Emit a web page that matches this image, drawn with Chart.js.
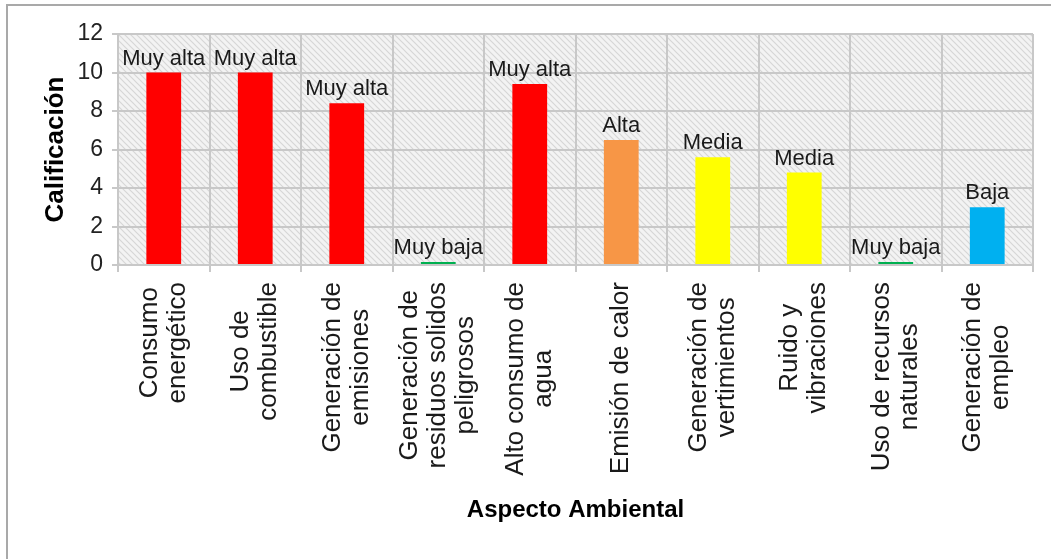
<!DOCTYPE html>
<html>
<head>
<meta charset="utf-8">
<script src="https://cdn.jsdelivr.net/npm/chart.js@4.4.0/dist/chart.umd.min.js"></script>
<style>
    html, body { margin: 0; padding: 0; background: #fff; }
    #frame { position: absolute; left: 6px; top: 4px; width: 1100px; height: 600px;
             border-left: 2px solid #a9a9a9; border-top: 2px solid #a9a9a9; }
    #c { position: absolute; left: 0; top: 0; }
</style>
</head>
<body>
<div id="frame"></div>
<canvas id="c" width="1051" height="559"></canvas>
<script>
// data
const categories = [
    ['Consumo', 'energético'],
    ['Uso de', 'combustible'],
    ['Generación de', 'emisiones'],
    ['Generación de', 'residuos solidos', 'peligrosos'],
    ['Alto consumo de', 'agua'],
    ['Emisión de calor'],
    ['Generación de', 'vertimientos'],
    ['Ruido y', 'vibraciones'],
    ['Uso de recursos', 'naturales'],
    ['Generación de', 'empleo']
];
const values = [10, 10, 8.4, 0.15, 9.4, 6.5, 5.6, 4.8, 0.15, 3];
const ratings = ['Muy alta', 'Muy alta', 'Muy alta', 'Muy baja', 'Muy alta', 'Alta', 'Media', 'Media', 'Muy baja', 'Baja'];
const yTicks = [0, 2, 4, 6, 8, 10, 12];

const ratingColors = {
    'Muy alta': '#ff0000',
    'Alta': '#f79646',
    'Media': '#ffff00',
    'Baja': '#00b0f0',
    'Muy baja': '#00b050'
};
const FONT = '"Liberation Sans", Arial, sans-serif';
const GRID = '#c8c8c8';

function hatch() {
    const t = document.createElement('canvas');
    t.width = 6; t.height = 6;
    const g = t.getContext('2d');
    g.fillStyle = '#f3f3f3';
    g.fillRect(0, 0, 6, 6);
    g.strokeStyle = '#d6d6d6';
    g.lineWidth = 1.2;
    g.beginPath();
    g.moveTo(-1, -1); g.lineTo(7, 7);
    g.moveTo(-4, 2); g.lineTo(4, 10);
    g.moveTo(2, -4); g.lineTo(10, 4);
    g.stroke();
    return t;
}

const plotBg = {
    id: 'plotBg',
    beforeDraw(chart) {
        const a = chart.chartArea, ctx = chart.ctx;
        ctx.save();
        ctx.fillStyle = ctx.createPattern(hatch(), 'repeat');
        ctx.fillRect(a.left, a.top, a.right - a.left, a.bottom - a.top);
        ctx.restore();
    }
};

const barLabels = {
    id: 'barLabels',
    afterDatasetsDraw(chart) {
        const ctx = chart.ctx;
        const bars = chart.getDatasetMeta(0).data;
        ctx.save();
        ctx.font = '22px ' + FONT;
        ctx.fillStyle = '#1a1a1a';
        ctx.textAlign = 'center';
        ctx.textBaseline = 'alphabetic';
        bars.forEach((b, i) => ctx.fillText(ratings[i], b.x, b.y - 8));
        ctx.restore();
    }
};

// category labels: rotated, lines centred on each other, top aligned under the axis
const catLabels = {
    id: 'catLabels',
    afterDraw(chart) {
        const xs = chart.scales.x, ctx = chart.ctx;
        const top = chart.chartArea.bottom + 17;
        ctx.save();
        ctx.font = '26px ' + FONT;
        ctx.fillStyle = '#1a1a1a';
        ctx.textAlign = 'center';
        ctx.textBaseline = 'middle';
        categories.forEach((lines, i) => {
            const x = xs.getPixelForValue(i);
            const w = Math.max(...lines.map(l => ctx.measureText(l).width));
            ctx.save();
            ctx.translate(x, top + w / 2);
            ctx.rotate(-Math.PI / 2);
            lines.forEach((l, k) => ctx.fillText(l, 0, (k - (lines.length - 1) / 2) * 28));
            ctx.restore();
        });
        ctx.restore();
    }
};

new Chart(document.getElementById('c').getContext('2d'), {
    type: 'bar',
    data: {
        labels: categories.map(c => c.join(' ')),
        datasets: [{
            data: values,
            backgroundColor: ratings.map(r => ratingColors[r]),
            borderWidth: 0,
            barPercentage: 0.38,
            categoryPercentage: 1
        }]
    },
    options: {
        responsive: false,
        animation: false,
        layout: { padding: { left: 36, top: 34, right: 18, bottom: 30 } },
        plugins: { legend: { display: false }, tooltip: { enabled: false } },
        scales: {
            x: {
                offset: true,
                grid: { offset: true, color: GRID, lineWidth: 2, tickLength: 7 },
                border: { color: GRID, width: 2 },
                ticks: { display: false },
                title: { display: true, text: 'Aspecto Ambiental', color: '#000',
                         font: { family: FONT, size: 24, weight: 'bold' } },
                afterFit(s) { s.height = 264; }
            },
            y: {
                min: 0, max: 12,
                afterBuildTicks(s) { s.ticks = yTicks.map(v => ({ value: v })); },
                ticks: { color: '#222', padding: 9, font: { family: FONT, size: 23 } },
                grid: { color: GRID, lineWidth: 2, tickLength: 6 },
                border: { color: GRID, width: 2 },
                title: { display: true, text: 'Calificación', color: '#000',
                         font: { family: FONT, size: 26, weight: 'bold' } },
                afterFit(s) { s.width = 82; }
            }
        }
    },
    plugins: [plotBg, barLabels, catLabels]
});
</script>
</body>
</html>
